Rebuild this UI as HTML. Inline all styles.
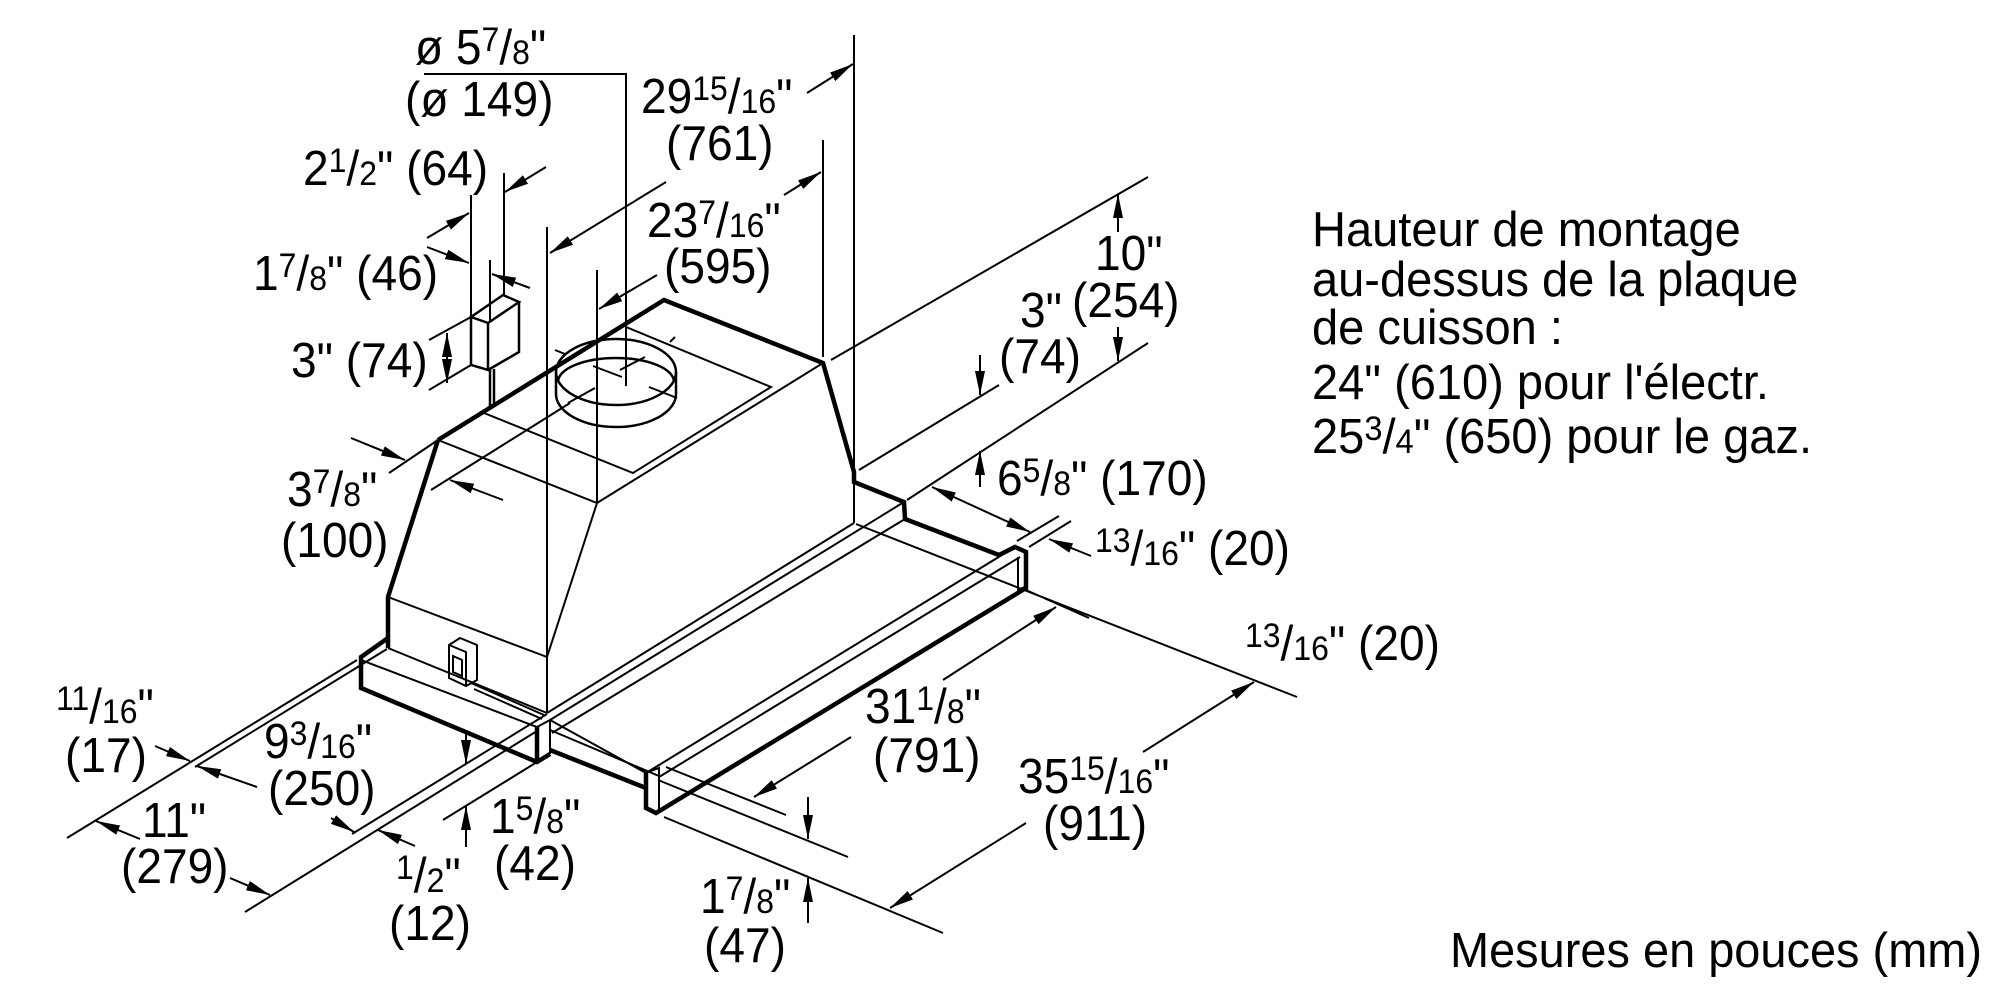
<!DOCTYPE html>
<html><head><meta charset="utf-8"><style>
html,body{margin:0;padding:0;background:#fff}
svg{display:block}
text{font-family:"Liberation Sans",Arial,sans-serif;font-size:49px;fill:#000}
</style></head><body>
<svg xmlns="http://www.w3.org/2000/svg" width="2000" height="1000" viewBox="0 0 2000 1000">
<defs>
<marker id="ar" viewBox="0 0 24 10" refX="24" refY="5" markerWidth="24" markerHeight="10" markerUnits="userSpaceOnUse" orient="auto-start-reverse"><path d="M0,0L24,5L0,10z" fill="#000"/></marker>
</defs>
<rect width="2000" height="1000" fill="#fff"/>

<!-- thin geometry -->
<g fill="none" stroke="#000" stroke-width="2">
<path d="M424,74H626V386 M547,227V713 M597,270V503 M823,140V357 M854,35V523 M471,195V317 M490,260V322 M504,173V295"/>
<path d="M429,340L471,317 M429,390L471,365"/>
<path d="M471,317L488,323L488,370L471,365Z M471,317L503,295L519,302L488,323 M519,302L519,352L488,370 M490,370V407 M494,369V405" stroke-width="2.5"/>
<path d="M823,363L597,503L438,440"/>
<path d="M484,413L633,473L771,387L626,327"/>
<ellipse cx="616" cy="372" rx="60" ry="33" stroke-width="2.5"/>
<path d="M558,382A58,24 0 0 1 674,382" stroke-width="2.5"/>
<path d="M556,372V394A60,33 0 0 0 676,394V372" stroke-width="2.5"/>
<path d="M593,366L622,377 M620,370L645,357 M568,403L595,388 M649,387L677,398 M555,350L565,354 M670,342L675,337"/>
<path d="M438,440L389,473 M431,490L570,403"/>
<path d="M597,503L547,657 M388,597L547,657 M388,648L547,713"/>
<path d="M547,713L854,523 M550,720L904,502 M552,733L905,519"/>
<path d="M361,660L537,727L550,720V754"/>
<path d="M550,720L646,773 M550,730L659,776"/>
<path d="M646,773L659,768L659,810 M646,773L1015,547 M659,777L1020,557 M1018,557V591"/>
<path d="M449,645L460,638L477,645L477,680L466,686L449,678Z M449,645L466,652L466,686 M453,656L462,660L462,676L453,672Z"/>
<path d="M471,683L544,715 M474,689L542,719"/>
<path d="M67,838L357,660 M195,767L387,649 M352,834L547,714 M245,912L537,731 M443,820L537,762"/>
<path d="M666,767L786,815 M658,780L848,857 M664,817L943,933 M856,524L1297,697 M1026,590L1089,618"/>
<path d="M1017,541L1059,516 M1029,547L1071,521 M831,360L1148,177 M907,500L1148,343 M859,470L999,385"/>
</g>

<!-- bold outlines -->
<g fill="none" stroke="#000" stroke-width="4.5" stroke-linejoin="miter">
<path d="M438,440L664,300L823,363L854,472L854,482L904,502L905,519L999,555L1015,547L1026,552L1026,588L1018,591"/>
<path d="M438,440L388,597L388,648"/>
<path d="M388,638L361,657L361,688L537,762L550,754"/>
<path d="M537,727V762"/>
<path d="M550,750L646,788"/>
<path d="M646,773L646,808L656,813L1026,588"/>
</g>

<!-- arrows -->
<g stroke="#000" stroke-width="2" fill="none" marker-end="url(#ar)">
<line x1="666" y1="182" x2="550" y2="253"/>
<line x1="807" y1="93" x2="853" y2="64"/>
<line x1="657" y1="275" x2="599" y2="309"/>
<line x1="784" y1="195" x2="821" y2="172"/>
<line x1="427" y1="238" x2="469" y2="213"/>
<line x1="546" y1="167" x2="505" y2="192"/>
<line x1="427" y1="247" x2="469" y2="263"/>
<line x1="530" y1="288" x2="492" y2="274"/>
<line x1="447" y1="333" x2="447" y2="383" marker-start="url(#ar)"/>
<line x1="351" y1="438" x2="405" y2="460"/>
<line x1="503" y1="500" x2="450" y2="480"/>
<line x1="155" y1="746" x2="190" y2="761"/>
<line x1="257" y1="787" x2="197" y2="766"/>
<line x1="331" y1="818" x2="354" y2="832"/>
<line x1="415" y1="846" x2="378" y2="830"/>
<line x1="140" y1="839" x2="96" y2="821"/>
<line x1="230" y1="878" x2="270" y2="895"/>
<line x1="466" y1="733" x2="466" y2="764"/>
<line x1="466" y1="847" x2="466" y2="806"/>
<line x1="851" y1="737" x2="754" y2="797"/>
<line x1="943" y1="680" x2="1056" y2="607"/>
<line x1="1026" y1="823" x2="890" y2="908"/>
<line x1="1143" y1="752" x2="1254" y2="682"/>
<line x1="808" y1="797" x2="808" y2="839"/>
<line x1="808" y1="923" x2="808" y2="878"/>
<line x1="932" y1="487" x2="1030" y2="532" marker-start="url(#ar)"/>
<line x1="980" y1="487" x2="980" y2="451"/>
<line x1="1091" y1="556" x2="1049" y2="539"/>
<line x1="1118" y1="232" x2="1118" y2="194"/>
<line x1="1118" y1="327" x2="1118" y2="361"/>
<line x1="980" y1="355" x2="980" y2="395"/>
</g>

<!-- labels -->
<text transform="translate(415,0) scale(0.94,1)" x="0" y="64">ø 5<tspan font-size="34" dy="-13">7</tspan><tspan dy="13">/</tspan><tspan font-size="34">8</tspan>&quot;</text>
<text transform="translate(405,0) scale(0.94,1)" x="0" y="116">(ø 149)</text>
<text transform="translate(641,0) scale(0.94,1)" x="0" y="113">29<tspan font-size="34" dy="-13">15</tspan><tspan dy="13">/</tspan><tspan font-size="34">16</tspan>&quot;</text>
<text transform="translate(666,0) scale(0.94,1)" x="0" y="160">(761)</text>
<text transform="translate(303,0) scale(0.94,1)" x="0" y="185">2<tspan font-size="34" dy="-13">1</tspan><tspan dy="13">/</tspan><tspan font-size="34">2</tspan>&quot; (64)</text>
<text transform="translate(647,0) scale(0.94,1)" x="0" y="237">23<tspan font-size="34" dy="-13">7</tspan><tspan dy="13">/</tspan><tspan font-size="34">16</tspan>&quot;</text>
<text transform="translate(664,0) scale(0.94,1)" x="0" y="283">(595)</text>
<text transform="translate(253,0) scale(0.94,1)" x="0" y="290">1<tspan font-size="34" dy="-13">7</tspan><tspan dy="13">/</tspan><tspan font-size="34">8</tspan>&quot; (46)</text>
<text transform="translate(291,0) scale(0.94,1)" x="0" y="377">3&quot; (74)</text>
<text transform="translate(287,0) scale(0.94,1)" x="0" y="506">3<tspan font-size="34" dy="-13">7</tspan><tspan dy="13">/</tspan><tspan font-size="34">8</tspan>&quot;</text>
<text transform="translate(281,0) scale(0.94,1)" x="0" y="557">(100)</text>
<text transform="translate(1095,0) scale(0.94,1)" x="0" y="270">10&quot;</text>
<text transform="translate(1072,0) scale(0.94,1)" x="0" y="317">(254)</text>
<text transform="translate(1020,0) scale(0.94,1)" x="0" y="327">3&quot;</text>
<text transform="translate(999,0) scale(0.94,1)" x="0" y="373">(74)</text>
<text transform="translate(997,0) scale(0.94,1)" x="0" y="495">6<tspan font-size="34" dy="-13">5</tspan><tspan dy="13">/</tspan><tspan font-size="34">8</tspan>&quot; (170)</text>
<text transform="translate(1095,0) scale(0.94,1)" x="0" y="565"><tspan font-size="34" dy="-13">13</tspan><tspan dy="13">/</tspan><tspan font-size="34">16</tspan>&quot; (20)</text>
<text transform="translate(1245,0) scale(0.94,1)" x="0" y="660"><tspan font-size="34" dy="-13">13</tspan><tspan dy="13">/</tspan><tspan font-size="34">16</tspan>&quot; (20)</text>
<text transform="translate(865,0) scale(0.94,1)" x="0" y="723">31<tspan font-size="34" dy="-13">1</tspan><tspan dy="13">/</tspan><tspan font-size="34">8</tspan>&quot;</text>
<text transform="translate(873,0) scale(0.94,1)" x="0" y="772">(791)</text>
<text transform="translate(1018,0) scale(0.94,1)" x="0" y="793">35<tspan font-size="34" dy="-13">15</tspan><tspan dy="13">/</tspan><tspan font-size="34">16</tspan>&quot;</text>
<text transform="translate(1043,0) scale(0.94,1)" x="0" y="840">(911)</text>
<text transform="translate(700,0) scale(0.94,1)" x="0" y="913">1<tspan font-size="34" dy="-13">7</tspan><tspan dy="13">/</tspan><tspan font-size="34">8</tspan>&quot;</text>
<text transform="translate(704,0) scale(0.94,1)" x="0" y="962">(47)</text>
<text transform="translate(56,0) scale(0.94,1)" x="0" y="723"><tspan font-size="34" dy="-13">11</tspan><tspan dy="13">/</tspan><tspan font-size="34">16</tspan>&quot;</text>
<text transform="translate(65,0) scale(0.94,1)" x="0" y="772">(17)</text>
<text transform="translate(264,0) scale(0.94,1)" x="0" y="758">9<tspan font-size="34" dy="-13">3</tspan><tspan dy="13">/</tspan><tspan font-size="34">16</tspan>&quot;</text>
<text transform="translate(268,0) scale(0.94,1)" x="0" y="805">(250)</text>
<text transform="translate(142,0) scale(0.94,1)" x="0" y="837">11&quot;</text>
<text transform="translate(121,0) scale(0.94,1)" x="0" y="883">(279)</text>
<text transform="translate(396,0) scale(0.94,1)" x="0" y="892"><tspan font-size="34" dy="-13">1</tspan><tspan dy="13">/</tspan><tspan font-size="34">2</tspan>&quot;</text>
<text transform="translate(389,0) scale(0.94,1)" x="0" y="940">(12)</text>
<text transform="translate(490,0) scale(0.94,1)" x="0" y="833">1<tspan font-size="34" dy="-13">5</tspan><tspan dy="13">/</tspan><tspan font-size="34">8</tspan>&quot;</text>
<text transform="translate(494,0) scale(0.94,1)" x="0" y="880">(42)</text>

<g transform="translate(1312,0) scale(0.96,1)">
<text x="0" y="246">Hauteur de montage</text>
<text x="0" y="296">au-dessus de la plaque</text>
<text x="0" y="344">de cuisson :</text>
<text x="0" y="399">24&quot; (610) pour l'électr.</text>
<text x="0" y="453">25<tspan font-size="34" dy="-13">3</tspan><tspan dy="13">/</tspan><tspan font-size="34">4</tspan>&quot; (650) pour le gaz.</text>
</g>

<text x="1450" y="967" textLength="532" lengthAdjust="spacingAndGlyphs">Mesures en pouces (mm)</text>
</svg>
</body></html>
